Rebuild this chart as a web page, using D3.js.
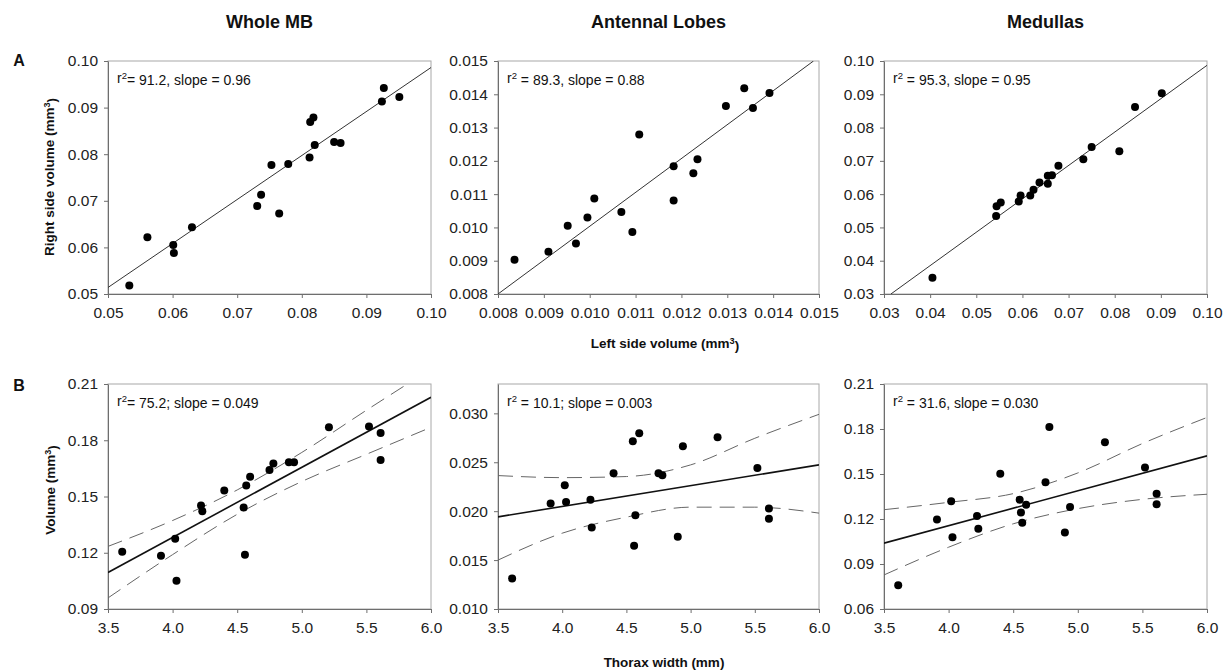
<!DOCTYPE html>
<html>
<head>
<meta charset="utf-8">
<script src="https://cdn.jsdelivr.net/npm/d3@7"></script>
<style>
  body { margin: 0; background: #fff; }
  text { font-family: "Liberation Sans", Arial, sans-serif; }
</style>
</head>
<body>
<script>
// titles and labels
var columnTitles = ["Whole MB", "Antennal Lobes", "Medullas"];
var rowLabels = ["A", "B"];

// row A: left vs right side volume (mm3)
var mbLeft  = [0.0533, 0.0561, 0.0601, 0.0602, 0.0630, 0.0731, 0.0737, 0.0753, 0.0765, 0.0779,
               0.0812, 0.0813, 0.0818, 0.0820, 0.0850, 0.0860, 0.0924, 0.0927, 0.0951];
var mbRight = [0.0518, 0.0622, 0.0605, 0.0588, 0.0643, 0.0689, 0.0713, 0.0777, 0.0673, 0.0779,
               0.0793, 0.0869, 0.0879, 0.0820, 0.0826, 0.0824, 0.0913, 0.0942, 0.0923];
var alLeft  = [0.00836, 0.00910, 0.00952, 0.00970, 0.00995, 0.01010, 0.01069, 0.01093, 0.01108,
               0.01183, 0.01183, 0.01226, 0.01235, 0.01297, 0.01337, 0.01356, 0.01392];
var alRight = [0.00903, 0.00927, 0.01005, 0.00952, 0.01030, 0.01087, 0.01046, 0.00986, 0.01279,
               0.01184, 0.01081, 0.01163, 0.01205, 0.01365, 0.01418, 0.01359, 0.01404];
var medLeft  = [0.0405, 0.0543, 0.0544, 0.0553, 0.0592, 0.0596, 0.0617, 0.0624, 0.0637, 0.0655,
                0.0655, 0.0664, 0.0678, 0.0732, 0.0750, 0.0810, 0.0844, 0.0902];
var medRight = [0.0349, 0.0534, 0.0564, 0.0575, 0.0578, 0.0596, 0.0596, 0.0613, 0.0635, 0.0655,
                0.0631, 0.0657, 0.0685, 0.0705, 0.0742, 0.0729, 0.0862, 0.0903];

// fitted lines, [x, y] at both ends
var mbFitA  = [[0.05, 0.0514], [0.10, 0.0986]];
var alFitA  = [[0.008, 0.008], [0.01488, 0.015]];
var medFitA = [[0.0315, 0.030], [0.10, 0.0987]];

// row B: thorax width (mm) vs volume (mm3)
var thorax = [3.61, 3.91, 4.02, 4.03, 4.22, 4.23, 4.40, 4.55, 4.56, 4.57,
              4.60, 4.75, 4.78, 4.90, 4.94, 5.21, 5.52, 5.61, 5.61];
var mbVol  = [0.1205, 0.1184, 0.1275, 0.1051, 0.1452, 0.1422, 0.1532, 0.1441, 0.1189, 0.1559,
              0.1605, 0.1642, 0.1676, 0.1683, 0.1683, 0.1869, 0.1873, 0.1839, 0.1695];
var alVol  = [0.01313, 0.02078, 0.02265, 0.02095, 0.02116, 0.01833, 0.02388, 0.02714, 0.01646, 0.01959,
              0.02796, 0.02388, 0.02367, 0.01738, 0.02663, 0.02755, 0.02442, 0.02027, 0.01922];
var medVol = [0.0758, 0.1197, 0.1318, 0.1079, 0.1220, 0.1135, 0.1501, 0.1329, 0.1244, 0.1175,
              0.1295, 0.1445, 0.1813, 0.1110, 0.1280, 0.1712, 0.1543, 0.1369, 0.1298];

var mbFitB  = [[3.5, 0.1095], [6.0, 0.2029]];
var alFitB  = [[3.5, 0.01942], [6.0, 0.02473]];
var medFitB = [[3.5, 0.1039], [6.0, 0.1621]];

// 95% bands read at these widths
var bandX = [3.5, 4.0, 4.5, 5.0, 5.5, 6.0];
var mbUpper  = [0.1234, 0.1372, 0.1535, 0.1735, 0.1960, 0.2180];
var mbLower  = [0.0959, 0.1190, 0.1405, 0.1580, 0.1725, 0.1869];
var alUpper  = [0.02364, 0.02343, 0.02354, 0.02473, 0.02745, 0.02990];
var alLower  = [0.01500, 0.01775, 0.01939, 0.02041, 0.02041, 0.01980];
var medUpper = [0.1262, 0.1311, 0.1369, 0.1507, 0.1703, 0.1877];
var medLower = [0.0827, 0.1012, 0.1168, 0.1269, 0.1331, 0.1365];

// annotations: [space before =, rest]
var notesA = [["", "= 91.2, slope = 0.96"], [" ", "= 89.3, slope = 0.88"], [" ", "= 95.3, slope = 0.95"]];
var notesB = [["", "= 75.2; slope = 0.049"], [" ", "= 10.1; slope = 0.003"], [" ", "= 31.6, slope = 0.030"]];

// y ticks
var ticksA = [[0.05, 0.06, 0.07, 0.08, 0.09, 0.10],
              [0.008, 0.009, 0.010, 0.011, 0.012, 0.013, 0.014, 0.015],
              [0.03, 0.04, 0.05, 0.06, 0.07, 0.08, 0.09, 0.10]];
var ticksB = [[0.09, 0.12, 0.15, 0.18, 0.21],
              [0.010, 0.015, 0.020, 0.025, 0.030],
              [0.06, 0.09, 0.12, 0.15, 0.18, 0.21]];
var thoraxTicks = [3.5, 4.0, 4.5, 5.0, 5.5, 6.0];
var domA = [[0.05, 0.10], [0.008, 0.015], [0.03, 0.10]];
var domB = [[0.09, 0.21], [0.010, 0.033], [0.06, 0.21]];

// layout
var w = 1229, h = 671;
var lefts = [108, 498, 884];
var widths = [323, 321, 323];
var rowTop = [61, 384];
var rowH = [233, 225];

var svg = d3.select("body").append("svg")
    .attr("width", w)
    .attr("height", h);

function sup(sel, base, s, rest) {
    sel.append("tspan").text(base);
    sel.append("tspan").attr("dy", "-0.45em").attr("font-size", "0.68em").text(s);
    sel.append("tspan").attr("dy", "0.45em").text(rest);
}

function panel(row, col, xs, ys, xDom, yDom, xTicks, yTicks, xFmt, yFmt, fit, upper, lower, note) {
    var x0 = lefts[col], y0 = rowTop[row], pw = widths[col], ph = rowH[row];
    var g = svg.append("g").attr("transform", "translate(" + x0 + "," + y0 + ")");

    var x = d3.scaleLinear().domain(xDom).range([0, pw]);
    var y = d3.scaleLinear().domain(yDom).range([ph, 0]);

    var clipId = "clip" + row + col;
    g.append("clipPath").attr("id", clipId)
        .append("rect").attr("width", pw).attr("height", ph);

    // frame
    g.append("rect")
        .attr("width", pw).attr("height", ph)
        .attr("fill", "none")
        .attr("stroke", "#a8a8a8")
        .attr("stroke-width", 1);

    var xAxis = d3.axisBottom(x).tickValues(xTicks).tickFormat(d3.format(xFmt))
        .tickSize(4).tickSizeOuter(0).tickPadding(9);
    var yAxis = d3.axisLeft(y).tickValues(yTicks).tickFormat(d3.format(yFmt))
        .tickSize(4).tickSizeOuter(0).tickPadding(6);

    var gx = g.append("g").attr("transform", "translate(0," + ph + ")").call(xAxis);
    var gy = g.append("g").call(yAxis);
    [gx, gy].forEach(function(a) {
        a.selectAll("path").attr("stroke", "#6e6e6e");
        a.selectAll("line").attr("stroke", "#6e6e6e");
        a.selectAll("text")
            .attr("font-family", "Liberation Sans, Arial, sans-serif")
            .attr("font-size", "15.5px")
            .attr("fill", "#222");
    });

    var inner = g.append("g").attr("clip-path", "url(#" + clipId + ")");
    var line = d3.line().x(function(d) { return x(d[0]); }).y(function(d) { return y(d[1]); });

    if (upper) {
        [upper, lower].forEach(function(b) {
            inner.append("path")
                .datum(bandX.map(function(v, i) { return [v, b[i]]; }))
                .attr("d", line.curve(d3.curveMonotoneX))
                .attr("fill", "none")
                .attr("stroke", "#666")
                .attr("stroke-width", 1)
                .attr("stroke-dasharray", "15,8");
        });
    }

    inner.append("path")
        .datum(fit)
        .attr("d", line.curve(d3.curveLinear))
        .attr("fill", "none")
        .attr("stroke", row == 0 ? "#333" : "#111")
        .attr("stroke-width", row == 0 ? 1 : 1.6);

    g.selectAll("circle.pt")
        .data(xs)
        .enter()
        .append("circle")
        .attr("class", "pt")
        .attr("cx", function(d) { return x(d); })
        .attr("cy", function(d, i) { return y(ys[i]); })
        .attr("r", 4)
        .attr("fill", "#000");

    var t = g.append("text")
        .attr("x", 9)
        .attr("y", 22)
        .attr("font-size", "14px")
        .attr("fill", "#111");
    sup(t, "r", "2", note[0] + note[1]);
}

var rowA = [[mbLeft, mbRight, mbFitA], [alLeft, alRight, alFitA], [medLeft, medRight, medFitA]];
var fmtA = [".2f", ".3f", ".2f"];
rowA.forEach(function(p, i) {
    panel(0, i, p[0], p[1], domA[i], domA[i], ticksA[i], ticksA[i], fmtA[i], fmtA[i], p[2], null, null, notesA[i]);
});

var rowB = [[mbVol, mbFitB, mbUpper, mbLower], [alVol, alFitB, alUpper, alLower], [medVol, medFitB, medUpper, medLower]];
var fmtB = [".2f", ".3f", ".2f"];
rowB.forEach(function(p, i) {
    panel(1, i, thorax, p[0], [3.5, 6.0], domB[i], thoraxTicks, ticksB[i], ".1f", fmtB[i], p[1], p[2], p[3], notesB[i]);
});

// column titles
svg.selectAll("text.title")
    .data(columnTitles)
    .enter()
    .append("text")
    .attr("class", "title")
    .attr("x", function(d, i) { return lefts[i] + widths[i] / 2; })
    .attr("y", 28)
    .attr("text-anchor", "middle")
    .attr("font-size", "18px")
    .attr("font-weight", "bold")
    .attr("fill", "#111")
    .text(function(d) { return d; });

// row letters
svg.selectAll("text.row")
    .data(rowLabels)
    .enter()
    .append("text")
    .attr("class", "row")
    .attr("x", 19)
    .attr("y", function(d, i) { return i == 0 ? 66 : 391; })
    .attr("text-anchor", "middle")
    .attr("font-size", "16px")
    .attr("font-weight", "bold")
    .attr("fill", "#111")
    .text(function(d) { return d; });

// axis titles
var lbl1 = svg.append("text")
    .attr("transform", "translate(54,177) rotate(-90)")
    .attr("text-anchor", "middle")
    .attr("font-size", "13.5px").attr("font-weight", "bold").attr("fill", "#111");
sup(lbl1, "Right side volume (mm", "3", ")");

var lbl2 = svg.append("text")
    .attr("transform", "translate(55,490) rotate(-90)")
    .attr("text-anchor", "middle")
    .attr("font-size", "13.5px").attr("font-weight", "bold").attr("fill", "#111");
sup(lbl2, "Volume (mm", "3", ")");

var lbl3 = svg.append("text")
    .attr("x", 665).attr("y", 348)
    .attr("text-anchor", "middle")
    .attr("font-size", "13.5px").attr("font-weight", "bold").attr("fill", "#111");
sup(lbl3, "Left side volume (mm", "3", ")");

svg.append("text")
    .attr("x", 664).attr("y", 667)
    .attr("text-anchor", "middle")
    .attr("font-size", "13.5px").attr("font-weight", "bold").attr("fill", "#111")
    .text("Thorax width (mm)");
</script>
</body>
</html>
